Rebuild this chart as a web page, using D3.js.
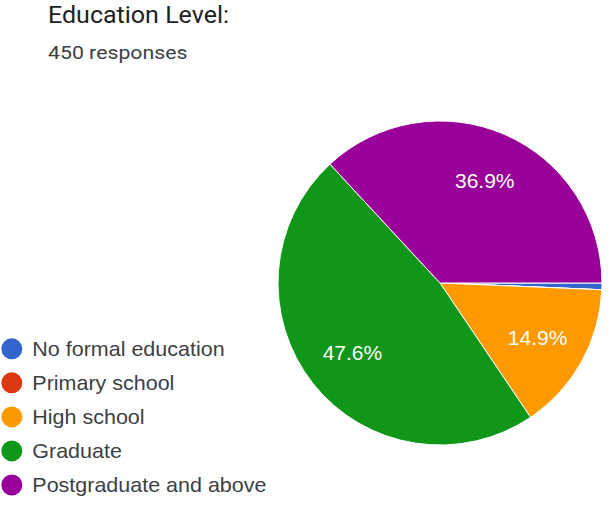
<!DOCTYPE html>
<html><head><meta charset="utf-8">
<script src="https://cdn.jsdelivr.net/npm/d3@7"></script>
<style>body{margin:0;background:#fff;}svg{display:block;}</style>
</head><body>
<svg id="c" width="610" height="507"></svg>
<script>
const title = "Education Level:";
const subtitle = "450 responses";
const categories = ["No formal education","Primary school","High school","Graduate","Postgraduate and above"];
const counts = [3, 0, 67, 214, 166];
const colors = ["#3366cc","#dc3912","#ff9900","#109618","#990099"];

const svg = d3.select("#c");
svg.append("text").attr("transform","translate(48,23.3) scale(1.065,1)")
  .attr("font-family","Roboto, Arial, sans-serif").attr("font-size",23.5).attr("fill","#202124").text(title);
svg.append("text").attr("transform","translate(48,58.7) scale(1.12,1)")
  .attr("font-family","Roboto, Arial, sans-serif").attr("font-size",19).attr("fill","#3c4043").text(subtitle);

const cx = 440, cy = 283, R = 162;
const total = d3.sum(counts);
const pie = d3.pie().sort(null).value(d=>d).startAngle(Math.PI/2).endAngle(Math.PI/2 + 2*Math.PI);
const arcs = pie(counts);
const arc = d3.arc().innerRadius(0).outerRadius(R);
const labelArc = d3.arc().innerRadius(R*0.69).outerRadius(R*0.69);
const g = svg.append("g").attr("transform",`translate(${cx},${cy})`);
g.selectAll("path").data(arcs).join("path")
  .attr("d",arc).attr("fill",(d,i)=>colors[i]).attr("stroke","#fff").attr("stroke-width",1);
g.selectAll("text").data(arcs.filter(d=>d.value/total>0.05)).join("text")
  .attr("transform",d=>`translate(${labelArc.centroid(d)})`)
  .attr("text-anchor","middle").attr("dy","0.36em")
  .attr("font-family","'Liberation Sans', Arial, sans-serif")
  .attr("font-size",21).attr("fill","#fff")
  .text(d=>(d.value/total*100).toFixed(1)+"%");

const leg = svg.append("g");
const yScale = d3.scalePoint().domain(categories).range([348.8,485]);
categories.forEach((c,i)=>{
  leg.append("circle").attr("cx",11.8).attr("cy",yScale(c)).attr("r",10.5).attr("fill",colors[i]);
  leg.append("text").attr("transform",`translate(32.3,${yScale(c)}) scale(1.075,1)`)
    .attr("dy","0.36em").attr("font-family","'Liberation Sans', Arial, sans-serif")
    .attr("font-size",20).attr("fill","#3c4043").text(c);
});
</script>
</body></html>
